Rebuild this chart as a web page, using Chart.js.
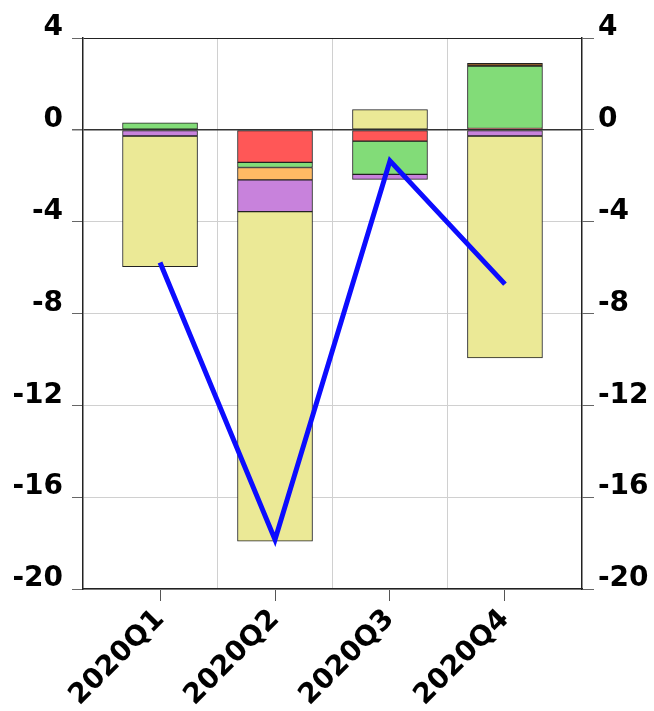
<!DOCTYPE html>
<html>
<head>
<meta charset="utf-8">
<script src="https://cdn.jsdelivr.net/npm/chart.js@4/dist/chart.umd.min.js"></script>
<style>
  html, body { margin: 0; padding: 0; background: #fff; }
  #wrap { width: 654px; height: 711px; }
</style>
</head>
<body>
<div id="wrap"><canvas id="chart" width="654" height="711"></canvas></div>
<script>
// quarters on the x axis
const quarters = ['2020Q1', '2020Q2', '2020Q3', '2020Q4'];

// contributions (stacked bars), in stacking order from zero outwards
const redVals    = [0,     -1.42, -0.49, 0.06];
const greenVals  = [0.31,  -0.22, -1.45, 2.72];
const orangeVals = [0,     -0.54,  0,    0];
const purpleVals = [-0.27, -1.38, -0.22, -0.27];
const yellowVals = [-5.69, -14.36, 0.88, -9.66];
const brownVals  = [0,      0,     0,    0.12];

// total (blue line)
const totalVals = [-5.78, -17.85, -1.35, -6.72];

// y axis ticks
const yTicks = [4, 0, -4, -8, -12, -16, -20];

const FONT = { family: 'DejaVu Sans', size: 28, weight: 'bold' };

// turn a series into {x, y} points, one per quarter
function toPoints(vals) {
    return vals.map((v, i) => ({ x: i + 1, y: v }));
}

function barSet(vals, color) {
    return {
        type: 'bar',
        data: toPoints(vals),
        backgroundColor: color,
        borderColor: '#222',
        borderWidth: 1,
        borderSkipped: false,
        barThickness: 75,
        order: 1
    };
}

const yMin = Math.min(...yTicks);
const yMax = Math.max(...yTicks);

function yGridColor(ctx) {
    const v = ctx.tick && ctx.tick.value;
    if (v === 0) return '#333';
    if (v === yMax) return '#222';
    return '#d0d0d0';
}

new Chart(document.getElementById('chart'), {
    data: {
        datasets: [
            {
                type: 'line',
                data: toPoints(totalVals),
                borderColor: '#0c0cff',
                borderWidth: 5,
                borderCapStyle: 'butt',
                borderJoinStyle: 'miter',
                pointRadius: 0,
                tension: 0,
                fill: false,
                order: 0
            },
            barSet(redVals,    '#ff5757'),
            barSet(greenVals,  '#82dc78'),
            barSet(orangeVals, '#ffba64'),
            barSet(purpleVals, '#c882dc'),
            barSet(yellowVals, '#ebe996'),
            barSet(brownVals,  '#8b5a2b')
        ]
    },
    options: {
        responsive: false,
        animation: false,
        layout: { padding: { top: 38, left: 0, right: 0, bottom: 0 } },
        plugins: {
            legend: { display: false },
            tooltip: { enabled: false }
        },
        scales: {
            x: {
                type: 'linear',
                position: 'bottom',
                stacked: true,
                offset: false,
                min: 0.33,
                max: 4.67,
                afterBuildTicks: scale => {
                    scale.ticks = quarters.map((q, i) => ({ value: i + 1 }));
                },
                afterFit: scale => { scale.height = 122; },
                ticks: {
                    font: FONT,
                    color: '#000',
                    maxRotation: 45,
                    minRotation: 45,
                    padding: 2,
                    callback: v => quarters[v - 1] || ''
                },
                grid: {
                    offset: false,
                    drawOnChartArea: false,
                    tickLength: 12,
                    tickColor: '#555'
                },
                border: { display: true, color: '#222', width: 1.5 }
            },
            xg: {
                type: 'linear',
                position: 'top',
                offset: false,
                min: 0.33,
                max: 4.67,
                afterBuildTicks: scale => {
                    scale.ticks = quarters.slice(1).map((q, i) => ({ value: i + 1.5 }));
                },
                afterFit: scale => { scale.height = 0; },
                ticks: { display: false },
                grid: { offset: false, drawTicks: false, color: '#d0d0d0' },
                border: { display: false }
            },
            y: {
                position: 'left',
                stacked: true,
                min: yMin,
                max: yMax,
                afterBuildTicks: scale => {
                    scale.ticks = yTicks.map(v => ({ value: v }));
                },
                afterFit: scale => { scale.width = 83; },
                ticks: { font: FONT, color: '#000', padding: 9, labelOffset: -10 },
                grid: {
                    color: yGridColor,
                    lineWidth: ctx => (ctx.tick && ctx.tick.value === 0 ? 1.5 : 1),
                    tickLength: 11,
                    tickColor: '#666'
                },
                border: { display: true, color: '#222', width: 1.5 }
            },
            y2: {
                position: 'right',
                min: yMin,
                max: yMax,
                afterBuildTicks: scale => {
                    scale.ticks = yTicks.map(v => ({ value: v }));
                },
                afterFit: scale => { scale.width = 72; },
                ticks: { font: FONT, color: '#000', padding: 4, labelOffset: -10 },
                grid: {
                    drawOnChartArea: false,
                    tickLength: 12,
                    tickColor: '#666'
                },
                border: { display: true, color: '#222', width: 1.5 }
            }
        }
    }
});
</script>
</body>
</html>
